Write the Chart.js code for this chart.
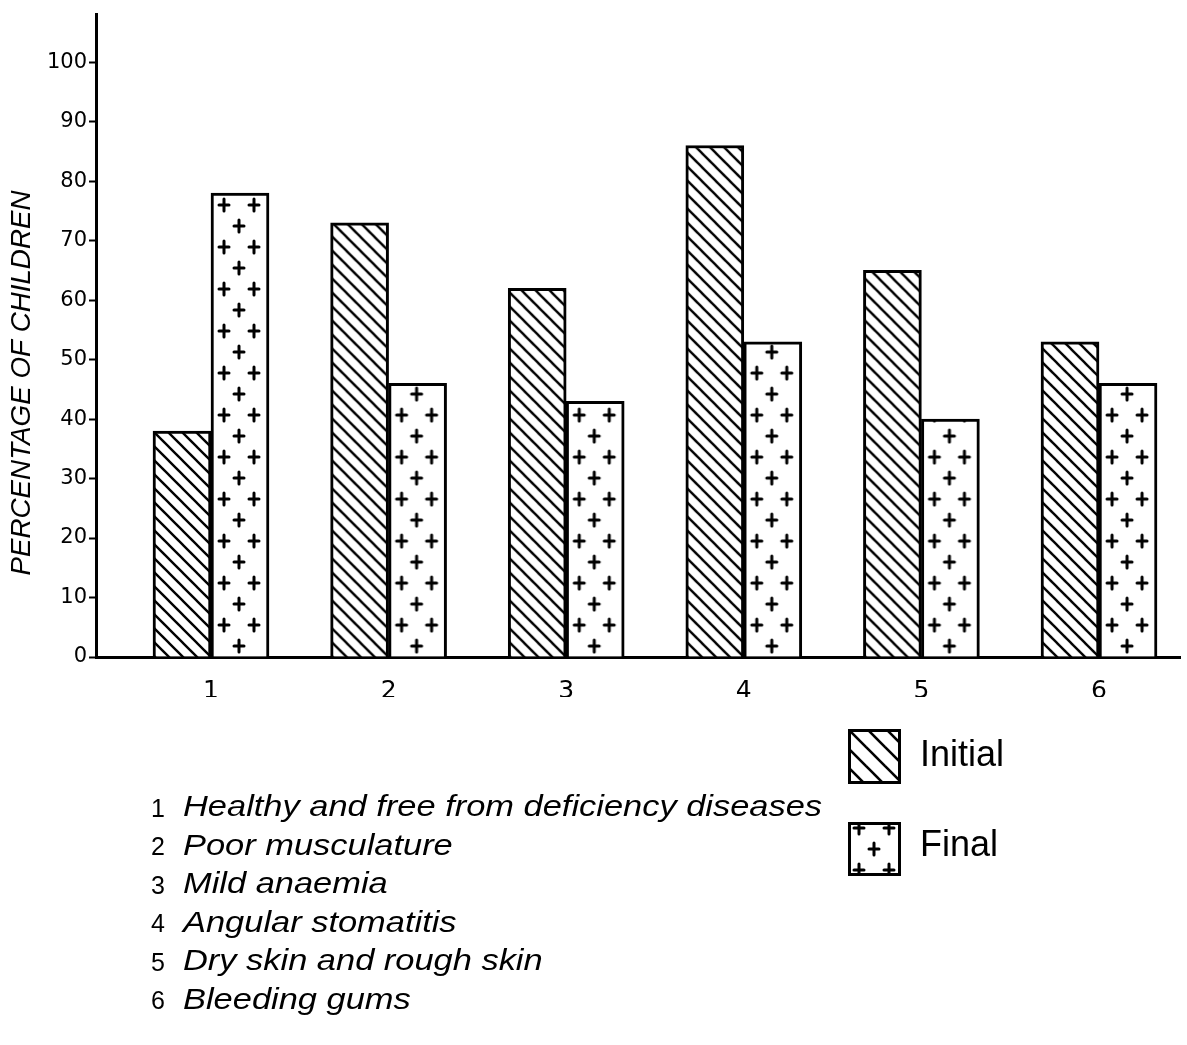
<!DOCTYPE html>
<html><head><meta charset="utf-8">
<script src="https://cdn.jsdelivr.net/npm/chart.js@4"></script>
<style>html,body{margin:0;padding:0;background:#fff}#wrap{width:1187px;height:1045px;position:relative}</style>
</head><body><div id="wrap"><canvas id="c" width="1187" height="1045"></canvas></div>
<script>
const categories = [1, 2, 3, 4, 5, 6];
const categoryNames = [
  'Healthy and free from deficiency diseases',
  'Poor musculature',
  'Mild anaemia',
  'Angular stomatitis',
  'Dry skin and rough skin',
  'Bleeding gums'
];
const seriesNames = ['Initial', 'Final'];
const initialValues = [38, 73, 62, 86, 65, 53];
const finalValues = [78, 46, 43, 53, 40, 46];
const yTicks = [0, 10, 20, 30, 40, 50, 60, 70, 80, 90, 100];
const yTitle = 'PERCENTAGE OF CHILDREN';

function makeHatchTile(s, lw) {
  const c = document.createElement('canvas');
  c.width = s; c.height = s;
  const g = c.getContext('2d');
  g.fillStyle = '#fff'; g.fillRect(0, 0, s, s);
  g.strokeStyle = '#000'; g.lineWidth = lw; g.lineCap = 'square';
  [[0, 0], [s, 0], [-s, 0]].forEach(([dx, dy]) => {
    g.beginPath(); g.moveTo(dx - 2, dy - 2); g.lineTo(dx + s + 2, dy + s + 2); g.stroke();
  });
  return c;
}
function makePlusTile() {
  const w = 58, h = 42, c = document.createElement('canvas');
  c.width = w; c.height = h;
  const g = c.getContext('2d');
  g.fillStyle = '#fff'; g.fillRect(0, 0, w, h);
  g.strokeStyle = '#000'; g.lineWidth = 3; g.lineCap = 'round';
  const plus = (x, y) => {
    g.beginPath(); g.moveTo(x - 5, y); g.lineTo(x + 5, y);
    g.moveTo(x, y - 6); g.lineTo(x, y + 6); g.stroke();
  };
  plus(13, 10); plus(43, 10); plus(28, 31);
  return c;
}
const hatchTile = makeHatchTile(14, 2.4);
const legendHatchTile = makeHatchTile(19, 2.6);
const plusTile = makePlusTile();
const tmpCtx = document.createElement('canvas').getContext('2d');

function patternFor(tile, ctx, shift) {
  const p = tmpCtx.createPattern(tile, 'repeat');
  const chart = ctx.chart;
  if (ctx.type === 'data' && chart.scales && chart.scales.x && chart.scales.y) {
    const px = chart.scales.x.getPixelForValue(categories[ctx.dataIndex]);
    const py = chart.scales.y.getPixelForValue(0);
    if (isFinite(px) && isFinite(py) && p.setTransform) {
      p.setTransform(new DOMMatrix().translate(px + shift, py));
    }
  }
  return p;
}

const textPlugin = {
  id: 'texts',
  afterDraw(chart) {
    const g = chart.ctx;
    g.save();
    g.fillStyle = '#000';
    // y axis title
    g.save();
    g.font = 'italic 27px "Liberation Sans", sans-serif';
    const tw = g.measureText(yTitle).width;
    g.translate(22, 383);
    g.rotate(-Math.PI / 2);
    g.scale(385 / tw, 1);
    g.textAlign = 'center'; g.textBaseline = 'middle';
    g.fillText(yTitle, 0, 0);
    g.restore();

    // legend
    const boxes = [
      { tile: legendHatchTile, x: 848, y: 729, w: 53, h: 55, label: seriesNames[0], ty: 756 },
      { tile: plusTile, x: 848, y: 822, w: 53, h: 54, label: seriesNames[1], ty: 846 }
    ];
    boxes.forEach((b, i) => {
      const p = g.createPattern(b.tile, 'repeat');
      if (p.setTransform) p.setTransform(new DOMMatrix().translate(b.x + (i ? -2 : 0), b.y + (i ? -4 : 0)));
      g.fillStyle = p;
      g.fillRect(b.x, b.y, b.w, b.h);
      g.strokeStyle = '#000'; g.lineWidth = 3;
      g.strokeRect(b.x + 1.5, b.y + 1.5, b.w - 3, b.h - 3);
      g.fillStyle = '#000';
      g.font = '36px "Liberation Sans", sans-serif';
      g.textAlign = 'left'; g.textBaseline = 'middle';
      g.fillText(b.label, 920, b.ty);
    });

    // category descriptions
    g.font = 'italic 30px "Liberation Sans", sans-serif';
    const w0 = g.measureText(categoryNames[0]).width;
    const sx = (822 - 183) / w0;
    categoryNames.forEach((name, i) => {
      const y = 808 + i * 38.5;
      g.font = '25px "Liberation Sans", sans-serif';
      g.textAlign = 'center'; g.textBaseline = 'middle';
      g.fillText(String(categories[i]), 158, y + 2);
      g.save();
      g.font = 'italic 30px "Liberation Sans", sans-serif';
      g.textAlign = 'left';
      g.translate(183, y);
      g.scale(sx, 1);
      g.fillText(name, 0, 0);
      g.restore();
    });
    g.restore();
  }
};

const chart = new Chart(document.getElementById('c'), {
  type: 'bar',
  data: {
    datasets: [
      {
        label: seriesNames[0],
        data: categories.map((c, i) => ({ x: c, y: initialValues[i] })),
        backgroundColor: (ctx) => patternFor(hatchTile, ctx, 0),
        borderColor: '#000', borderWidth: 3, borderSkipped: 'bottom'
      },
      {
        label: seriesNames[1],
        data: categories.map((c, i) => ({ x: c, y: finalValues[i] })),
        backgroundColor: (ctx) => patternFor(plusTile, ctx, 0),
        borderColor: '#000', borderWidth: 3, borderSkipped: 'bottom'
      }
    ]
  },
  options: {
    responsive: false,
    animation: false,
    events: [],
    layout: { padding: { left: 0, top: 10, right: 7, bottom: 348 } },
    datasets: { bar: { barThickness: 58, grouped: true } },
    plugins: { legend: { display: false }, tooltip: { enabled: false } },
    scales: {
      x: {
        type: 'linear',
        min: 0.3525, max: 6.456,
        offset: false,
        afterBuildTicks: (s) => { s.ticks = categories.map(v => ({ value: v })); },
        afterFit: (s) => { s.height = 40; },
        grid: { display: false },
        border: { display: true, color: '#000', width: 3 },
        ticks: { color: '#000', font: { size: 25, family: 'DejaVu Sans' }, padding: 11, autoSkip: false, maxRotation: 0 }
      },
      y: {
        min: 0, max: 108,
        afterBuildTicks: (s) => { s.ticks = yTicks.map(v => ({ value: v })); },
        afterFit: (s) => { s.width = 96; },
        grid: { display: true, drawOnChartArea: false, drawTicks: true, tickLength: 7, tickColor: '#000', tickWidth: 2 },
        border: { display: true, color: '#000', width: 3 },
        ticks: { color: '#000', font: { size: 21, family: 'DejaVu Sans' }, padding: 2 }
      }
    }
  },
  plugins: [textPlugin]
});
</script>
</body></html>
